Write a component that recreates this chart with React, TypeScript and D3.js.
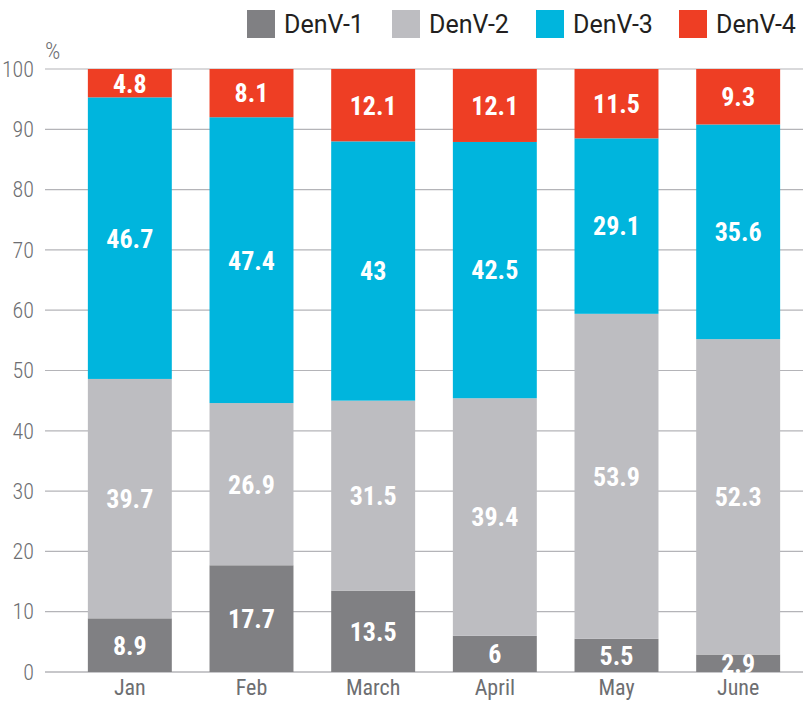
import React from "react";
import * as d3 from "d3";

const months = ["Jan", "Feb", "March", "April", "May", "June"];
const seriesNames = ["DenV-1", "DenV-2", "DenV-3", "DenV-4"];
const denv1 = [8.9, 17.7, 13.5, 6, 5.5, 2.9];
const denv2 = [39.7, 26.9, 31.5, 39.4, 53.9, 52.3];
const denv3 = [46.7, 47.4, 43, 42.5, 29.1, 35.6];
const denv4 = [4.8, 8.1, 12.1, 12.1, 11.5, 9.3];
const yTicks = [0, 10, 20, 30, 40, 50, 60, 70, 80, 90, 100];
const colors = ["#808083", "#bdbdc1", "#00b5dd", "#ee3e24"];

const W = 803;
const H = 702;
const condensed = "'Roboto Condensed', 'Liberation Sans Narrow', 'DejaVu Sans Condensed', 'Open Sans Condensed', sans-serif";

export default function App() {
  const seriesValues = [denv1, denv2, denv3, denv4];
  const rows = months.map((m, i) => {
    const r: any = { month: m };
    seriesNames.forEach((s, k) => (r[s] = seriesValues[k][i]));
    return r;
  });
  const stack = d3.stack<any>().keys(seriesNames);
  const stacked = stack(rows);

  const x = d3.scaleBand<string>().domain(months).range([69, 799]).paddingInner(0.31).paddingOuter(0.155);
  const y = d3.scaleLinear().domain([0, 100]).range([672, 69]);

  const legendX = [247, 392, 536, 679];

  return (
    <svg width={W} height={H} style={{ position: "absolute", left: 0, top: 0 }}>
      <rect width={W} height={H} fill="#fff" />
      {yTicks.map((t) => (
        <g key={t}>
          <line x1={45} x2={W} y1={y(t)} y2={y(t)} stroke="#b4b4b8" strokeWidth={t === 0 ? 1.5 : 1.2} />
          <text x={34} y={y(t)} dy="0.35em" textAnchor="end" fontFamily={condensed} fontSize={22} fill="#6d6e71" fontWeight={300}>
            {t}
          </text>
        </g>
      ))}
      <text x={45} y={59} fontFamily={condensed} fontSize={24} fill="#6d6e71" fontWeight={300}>%</text>
      {stacked.map((layer, k) => (
        <g key={layer.key}>
          {layer.map((d, i) => (
            <rect
              key={i}
              x={x(months[i])}
              width={x.bandwidth()}
              y={y(Math.min(d[1], 100))}
              height={y(d[0]) - y(Math.min(d[1], 100))}
              fill={colors[k]}
            />
          ))}
        </g>
      ))}
      {stacked.map((layer, k) => (
        <g key={"l" + layer.key}>
          {layer.map((d, i) => (
            <text
              key={i}
              x={(x(months[i]) as number) + x.bandwidth() / 2}
              y={y((d[0] + Math.min(d[1], 100)) / 2)}
              dy="0.36em"
              textAnchor="middle"
              fontFamily={condensed}
              fontWeight={700}
              fontSize={26}
              fill="#fff"
            >
              {seriesValues[k][i]}
            </text>
          ))}
        </g>
      ))}
      {months.map((m) => (
        <text key={m} x={(x(m) as number) + x.bandwidth() / 2} y={695} textAnchor="middle" fontFamily={condensed} fontSize={22} fill="#6d6e71" fontWeight={400}>
          {m}
        </text>
      ))}
      {seriesNames.map((s, k) => (
        <g key={s}>
          <rect x={legendX[k]} y={10} width={28} height={28} fill={colors[k]} />
          <text x={legendX[k] + 37} y={24} dy="0.36em" fontFamily="Roboto, 'Liberation Sans', sans-serif" fontSize={25} fill="#231f20">
            {s}
          </text>
        </g>
      ))}
    </svg>
  );
}
